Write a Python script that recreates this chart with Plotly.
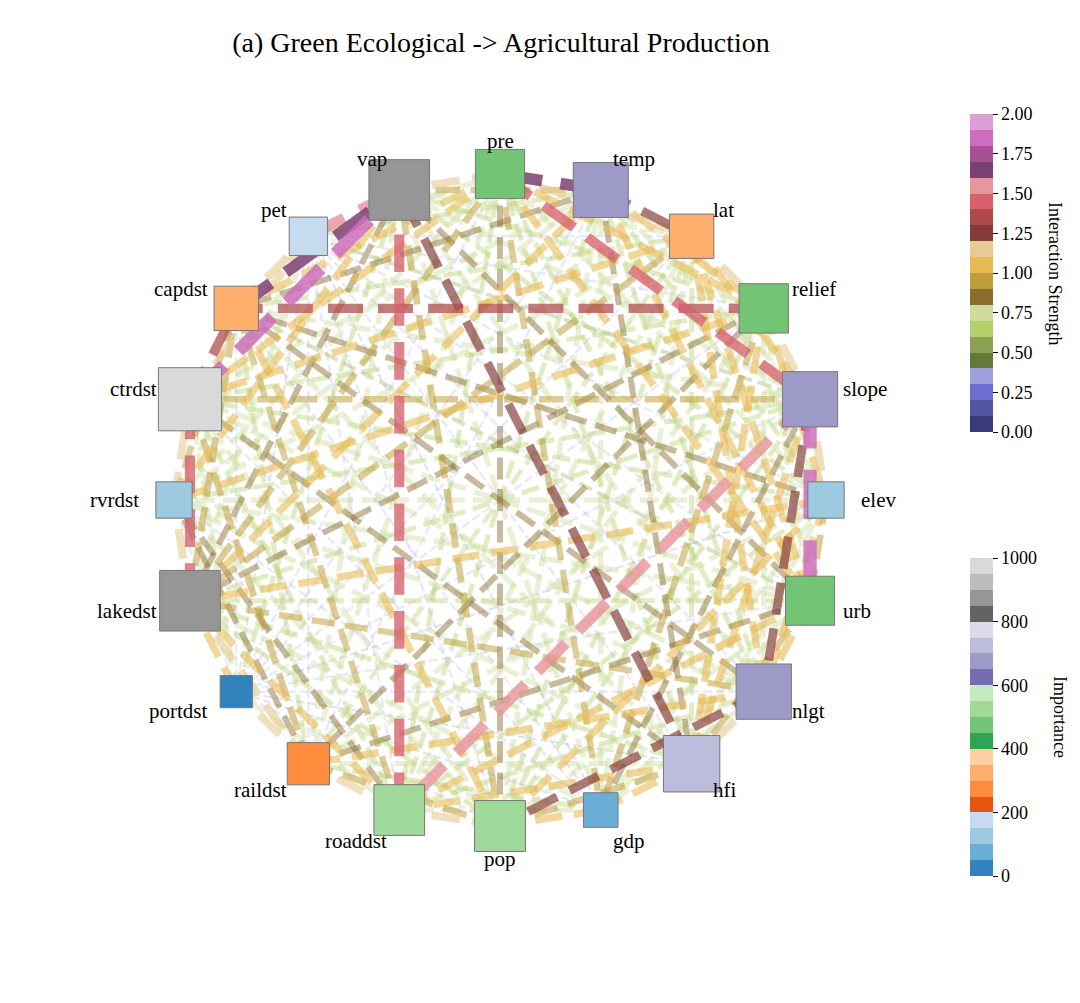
import numpy as np
import plotly.graph_objects as go

# node names, clockwise from the top
features = ["pre", "temp", "lat", "relief", "slope", "elev", "urb", "nlgt", "hfi", "gdp",
            "pop", "roaddst", "raildst", "portdst", "lakedst", "rvrdst", "ctrdst", "capdst", "pet", "vap"]

# feature importance (0-1000)
importance = [475, 670, 330, 480, 680, 120, 470, 680, 720, 80,
              530, 525, 270, 30, 880, 120, 980, 330, 170, 880]

# interaction strength, upper triangle: row i holds pairs (i, j) for j > i
interaction = [
    [1.65, 1.10, 1.05, 1.45, 0.75, 1.05, 0.70, 0.70, 0.90, 0.85, 0.70, 0.75, 0.35, 0.95, 0.75, 1.05, 1.05, 0.75, 1.10],
    [1.25, 1.05, 0.75, 0.70, 1.05, 0.70, 0.85, 0.75, 0.75, 0.70, 0.35, 0.35, 1.05, 0.75, 0.75, 0.85, 0.70, 0.95],
    [1.15, 1.05, 0.75, 1.05, 1.05, 0.70, 0.75, 0.70, 0.75, 0.65, 0.35, 0.95, 0.75, 1.05, 0.70, 0.35, 0.75],
    [1.10, 1.05, 0.75, 0.75, 1.05, 0.95, 0.70, 0.75, 0.85, 0.35, 0.85, 1.05, 0.70, 1.35, 0.35, 0.70],
    [1.15, 1.90, 1.25, 1.05, 0.85, 0.70, 1.55, 0.75, 0.35, 0.70, 0.70, 0.95, 0.75, 0.55, 0.75],
    [0.95, 1.05, 0.75, 0.75, 1.05, 0.70, 0.75, 0.30, 1.05, 0.75, 0.70, 0.85, 0.35, 0.70],
    [1.05, 0.95, 0.75, 0.75, 1.05, 0.85, 0.35, 0.70, 0.75, 0.75, 0.55, 0.35, 0.85],
    [1.10, 0.75, 1.25, 0.70, 1.05, 0.35, 0.90, 0.75, 0.75, 0.85, 0.35, 0.75],
    [1.05, 0.95, 1.05, 0.75, 0.30, 0.70, 0.75, 0.85, 0.75, 0.35, 1.25],
    [1.05, 0.75, 0.70, 0.30, 0.75, 0.35, 0.35, 0.35, 0.30, 0.75],
    [1.10, 0.95, 0.35, 0.70, 0.75, 0.75, 1.05, 0.35, 0.95],
    [1.10, 0.75, 1.05, 0.85, 0.70, 0.90, 0.35, 1.45],
    [1.10, 1.15, 0.85, 0.95, 0.70, 0.35, 0.75],
    [1.05, 0.35, 0.75, 0.35, 0.30, 0.70],
    [1.15, 1.45, 0.95, 0.75, 0.85],
    [1.10, 0.90, 0.75, 1.05],
    [1.35, 1.15, 1.85],
    [1.15, 1.65],
    [1.55],
]

strength_ticks = [0, 0.25, 0.5, 0.75, 1.0, 1.25, 1.5, 1.75, 2.0]
importance_ticks = [0, 200, 400, 600, 800, 1000]

tab20b = ["#393b79", "#5254a3", "#6b6ecf", "#9c9ede", "#637939", "#8ca252", "#b5cf6b", "#cedb9c",
          "#8c6d31", "#bd9e39", "#e7ba52", "#e7cb94", "#843c39", "#ad494a", "#d6616b", "#e7969c",
          "#7b4173", "#a55194", "#ce6dbd", "#de9ed6"]
tab20c = ["#3182bd", "#6baed6", "#9ecae1", "#c6dbef", "#e6550d", "#fd8d3c", "#fdae6b", "#fdd0a2",
          "#31a354", "#74c476", "#a1d99b", "#c7e9c0", "#756bb1", "#9e9ac8", "#bcbddc", "#dadaeb",
          "#636363", "#969696", "#bdbdbd", "#d9d9d9"]


def discrete_scale(colors):
    n = len(colors)
    scale = []
    for i, c in enumerate(colors):
        scale.append([i / n, c])
        scale.append([(i + 1) / n, c])
    return scale


def rgba(hex_color, a):
    h = hex_color.lstrip("#")
    return "rgba(%d,%d,%d,%.3f)" % (int(h[0:2], 16), int(h[2:4], 16), int(h[4:6], 16), a)


n = len(features)
ang = np.deg2rad(90 - 360 / n * np.arange(n))
xs = np.cos(ang)
ys = np.sin(ang)

edges = []
for i, row in enumerate(interaction):
    for k, s in enumerate(row):
        edges.append((s, i, i + 1 + k))
edges.sort(key=lambda e: e[0])

SERIF = "Times New Roman, Liberation Serif, serif"
fig = go.Figure()

for s, i, j in edges:
    w = 7 * s
    col = tab20b[min(int(s / 0.1), 19)]
    fig.add_trace(go.Scatter(
        x=[xs[i], xs[j]], y=[ys[i], ys[j]], mode="lines",
        line=dict(color=rgba(col, min(0.85, 0.05 + 0.5 * s)), width=w,
                  dash="%.1fpx,%.1fpx" % (3.7 * w, 1.6 * w)),
        hoverinfo="skip", showlegend=False))

# square side grows like sqrt of a linear area
node_colors = [tab20c[min(int(v / 50), 19)] for v in importance]
node_sizes = [np.sqrt(946 + 3.1 * v) for v in importance]
fig.add_trace(go.Scatter(
    x=xs, y=ys, mode="markers",
    marker=dict(symbol="square", size=node_sizes, opacity=1,
                color=node_colors, line=dict(color="#777777", width=1)),
    text=features, hoverinfo="text", showlegend=False))

# colorbars
cb_common = dict(x=1.0875, xanchor="left", xpad=0, ypad=0, yanchor="middle",
                 len=318, lenmode="pixels", thickness=23, outlinewidth=0,
                 ticks="outside", ticklen=5, tickcolor="black",
                 tickfont=dict(family=SERIF, size=18, color="black"))
fig.add_trace(go.Scatter(
    x=[0, 0], y=[0, 0], mode="markers", hoverinfo="skip", showlegend=False,
    marker=dict(size=0.1, opacity=0, color=[0, 2], cmin=0, cmax=2,
                colorscale=discrete_scale(tab20b),
                colorbar=dict(y=0.78375, tickvals=strength_ticks,
                              ticktext=["%.2f" % t for t in strength_ticks], **cb_common))))
fig.add_trace(go.Scatter(
    x=[0, 0], y=[0, 0], mode="markers", hoverinfo="skip", showlegend=False,
    marker=dict(size=0.1, opacity=0, color=[0, 1000], cmin=0, cmax=1000,
                colorscale=discrete_scale(tab20c),
                colorbar=dict(y=0.22875, tickvals=importance_ticks,
                              ticktext=[str(t) for t in importance_ticks], **cb_common))))

fig.add_annotation(x=(1055 - 100) / 800, y=0.78375, xref="paper", yref="paper", text="Interaction Strength",
                   textangle=90, showarrow=False, xanchor="center", yanchor="middle",
                   font=dict(family=SERIF, size=18, color="black"))
fig.add_annotation(x=(1060 - 100) / 800, y=0.22875, xref="paper", yref="paper", text="Importance",
                   textangle=90, showarrow=False, xanchor="center", yanchor="middle",
                   font=dict(family=SERIF, size=18, color="black"))

# labels
for k, name in enumerate(features):
    lx, ly = 1.1 * xs[k], 1.1 * ys[k]
    anchor = "center" if abs(lx) < 1e-6 else ("left" if lx > 0 else "right")
    fig.add_annotation(x=lx, y=ly, text=name, showarrow=False, xanchor=anchor, yanchor="middle",
                       font=dict(family=SERIF, size=21, color="black"))

# page has an 8px body margin, so the figure is 16px smaller and shifted
rng = 400 / 326
fig.update_layout(
    width=1064, height=987,
    margin=dict(l=92, r=172, t=92, b=95),
    paper_bgcolor="white", plot_bgcolor="white",
    title=dict(text="(a) Green Ecological -> Agricultural Production", x=493 / 1064, xanchor="center",
               y=1 - 34 / 987, yanchor="middle", font=dict(family=SERIF, size=28, color="black")),
    xaxis=dict(range=[-rng, rng], visible=False, fixedrange=True),
    yaxis=dict(range=[-rng, rng], visible=False, fixedrange=True),
)

fig.write_html("out.html")
